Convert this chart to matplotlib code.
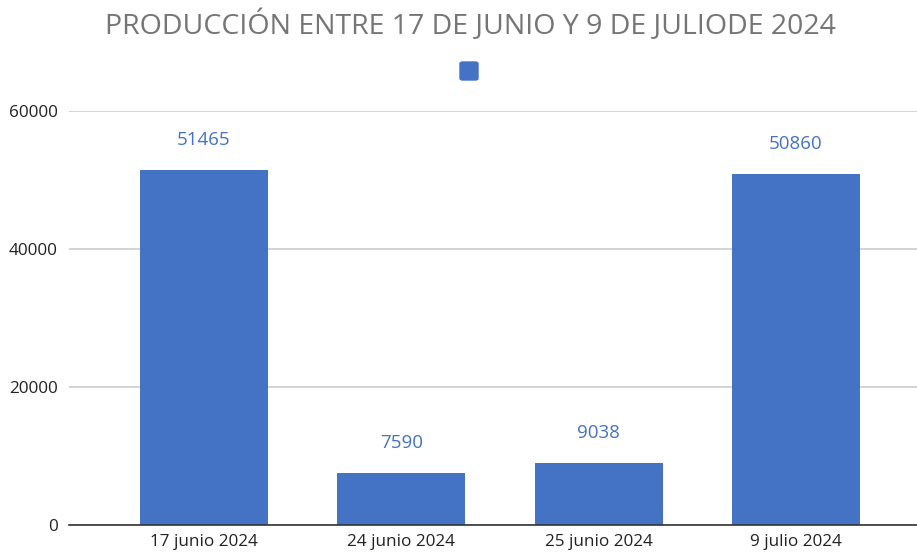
import matplotlib
matplotlib.use("Agg")
import matplotlib.pyplot as plt
from matplotlib.patches import FancyBboxPatch

categories = ["17 junio 2024", "24 junio 2024", "25 junio 2024", "9 julio 2024"]
values = [51465, 7590, 9038, 50860]
yticks = [0, 20000, 40000, 60000]
title = "PRODUCCIÓN ENTRE 17 DE JUNIO Y 9 DE JULIODE 2024"

W, H = 917, 553
fig = plt.figure(figsize=(W/100, H/100), dpi=100)
plt.rcParams['font.family'] = ['Open Sans', 'DejaVu Sans']
ax = fig.add_axes([69/W, 1-525/H, (W-69)/W, (525-111)/H])

bar_color = "#4472C4"
x = list(range(len(categories)))
ax.bar(x, values, width=0.649, color=bar_color, zorder=3)
for xi, v in zip(x, values):
    ax.annotate(str(v), (xi, v), xytext=(0, 15), textcoords="offset points",
                ha="center", va="bottom", color=bar_color, fontsize=13.5)

ax.set_xlim(-0.684, 3.614)
ax.set_ylim(0, 60000)
ax.set_yticks(yticks)
ax.set_yticklabels([str(t) for t in yticks])
ax.set_xticks(x)
ax.set_xticklabels(categories)
ax.tick_params(axis='both', length=0, labelsize=12.3, colors="#222222")
ax.tick_params(axis='y', pad=8)
ax.tick_params(axis='x', pad=6.5)
ax.grid(axis='y', color="#cccccc", linewidth=1.2, zorder=0)
for s in ["top", "right", "left"]:
    ax.spines[s].set_visible(False)
ax.spines["bottom"].set_color("#333333")
ax.spines["bottom"].set_linewidth(1.2)
ax.spines["bottom"].set_zorder(4)

fig.text(470/W, 1-25/H, title, ha="center", va="center", fontsize=20.5, color="#757575")
fig.patches.append(FancyBboxPatch((460/W, 1-80/H), 18/W, 18/H,
                                  boxstyle="round,pad=0,rounding_size=0.003",
                                  transform=fig.transFigure, color=bar_color))

fig.savefig("out.png", dpi=100)
